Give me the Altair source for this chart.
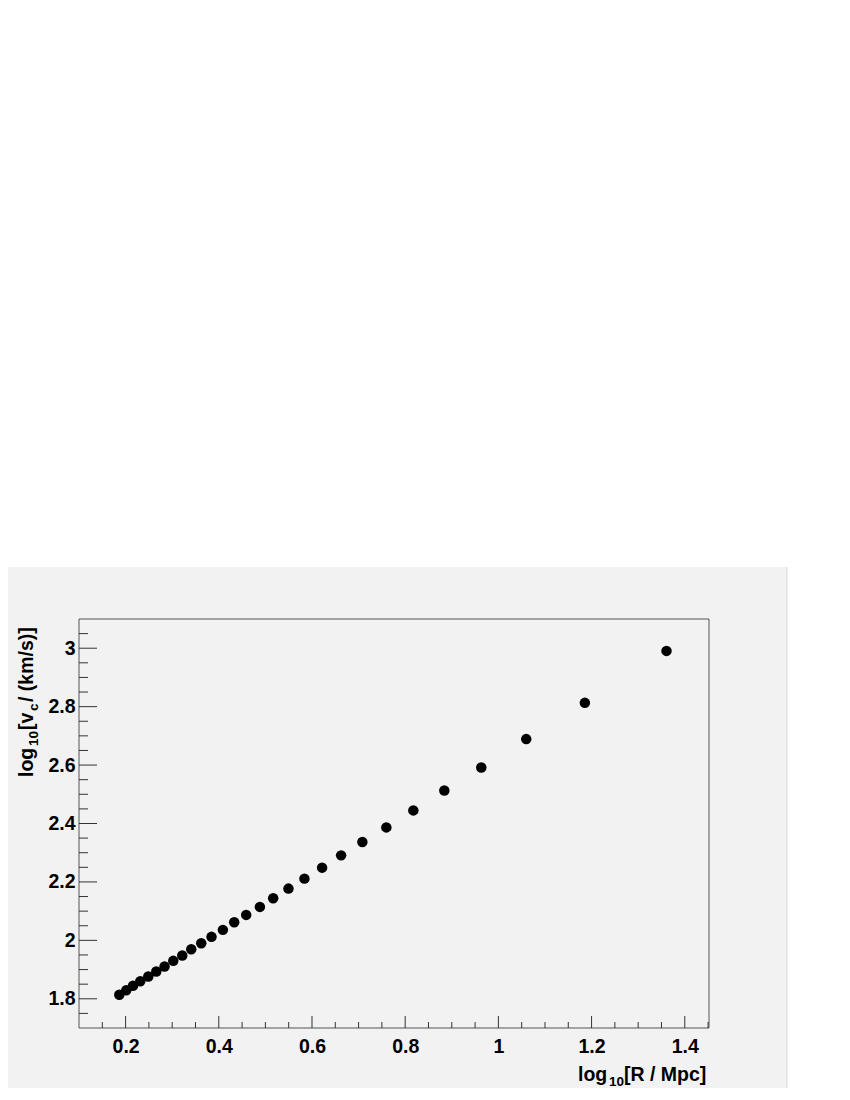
import altair as alt
import pandas as pd

# data
log_r = [0.1865, 0.2015, 0.2159, 0.2315, 0.2487, 0.2658, 0.2836, 0.3023, 0.3216,
         0.3409, 0.3623, 0.3844, 0.4088, 0.4331, 0.4588, 0.4882, 0.5167, 0.5495,
         0.5838, 0.6217, 0.6625, 0.7081, 0.7596, 0.8175, 0.8840, 0.9633, 1.0598,
         1.1856, 1.3608]
log_vc = [1.8137, 1.8294, 1.8444, 1.8602, 1.8762, 1.8933, 1.9104, 1.9299, 1.9480,
          1.9696, 1.9901, 2.0120, 2.0359, 2.0619, 2.0872, 2.1145, 2.1439, 2.1771,
          2.2113, 2.2489, 2.2909, 2.3368, 2.3867, 2.4448, 2.5132, 2.5918, 2.6889,
          2.8130, 2.9908]

x_major = [0.2, 0.4, 0.6, 0.8, 1.0, 1.2, 1.4]
x_minor = [0.15, 0.25, 0.3, 0.35, 0.45, 0.5, 0.55, 0.65, 0.7, 0.75, 0.85, 0.9, 0.95,
           1.05, 1.1, 1.15, 1.25, 1.3, 1.35, 1.45]
y_major = [1.8, 2.0, 2.2, 2.4, 2.6, 2.8, 3.0]
y_minor = [1.75, 1.85, 1.9, 1.95, 2.05, 2.1, 2.15, 2.25, 2.3, 2.35, 2.45, 2.5, 2.55,
           2.65, 2.7, 2.75, 2.85, 2.9, 2.95, 3.05]

X_DOMAIN = [0.1, 1.452]
Y_DOMAIN = [1.7, 3.1]
W, H = 630, 409
FONT = "Liberation Sans"
BG = "#f2f2f2"
LBL = 19.5

xscale = alt.Scale(domain=X_DOMAIN, nice=False, zero=False)
yscale = alt.Scale(domain=Y_DOMAIN, nice=False, zero=False)

xaxis = alt.Axis(values=x_major, format="~g", labelFont=FONT, labelFontWeight="bold",
                 labelFontSize=LBL, labelColor="black", ticks=False, tickSize=0,
                 domain=False, grid=False, title=None, labelPadding=9, zindex=1,
                 labelFlush=False)
yaxis = alt.Axis(values=y_major, format="~g", labelFont=FONT, labelFontWeight="bold",
                 labelFontSize=LBL, labelColor="black", ticks=False, tickSize=0,
                 domain=False, grid=False, title=None, labelPadding=4, zindex=1,
                 labelFlush=False)

one = pd.DataFrame({"a": [0]})

background = alt.Chart(one).mark_rect(fill=BG).encode(
    x=alt.value(-71), x2=alt.value(708), y=alt.value(-52), y2=alt.value(469)
)
right_edge = alt.Chart(one).mark_rule(color="#d8d8d8", strokeWidth=1).encode(
    x=alt.value(708), y=alt.value(-52), y2=alt.value(469)
)
frame = alt.Chart(one).mark_rect(fill=None, stroke="#555555", strokeWidth=1).encode(
    x=alt.value(0), x2=alt.value(W), y=alt.value(0), y2=alt.value(H)
)

pts = pd.DataFrame({"r": log_r, "v": log_vc})
points = alt.Chart(pts).mark_circle(size=110, color="black", opacity=1).encode(
    x=alt.X("r:Q", scale=xscale, axis=xaxis),
    y=alt.Y("v:Q", scale=yscale, axis=yaxis),
)

def yticks(vals, length):
    df = pd.DataFrame({"v": vals})
    return alt.Chart(df).mark_rule(color="#333333", strokeWidth=1).encode(
        y=alt.Y("v:Q", scale=yscale, axis=yaxis),
        x=alt.value(0), x2=alt.value(length),
    )

def xticks(vals, length):
    df = pd.DataFrame({"r": vals})
    return alt.Chart(df).mark_rule(color="#333333", strokeWidth=1).encode(
        x=alt.X("r:Q", scale=xscale, axis=xaxis),
        y=alt.value(H), y2=alt.value(H - length),
    )

F = 19.5
S = 13.5

def txt(s, size, **kw):
    return alt.Chart(one).mark_text(text=s, font=FONT, fontWeight="bold",
                                    fontSize=size, color="black", **kw)

# y title pieces (rotated)
yb = -46
ytitle = [
    txt("log", F, angle=270, align="left", baseline="alphabetic").encode(
        x=alt.value(yb), y=alt.value(158)),
    txt("10", S, angle=270, align="left", baseline="alphabetic").encode(
        x=alt.value(yb + 5), y=alt.value(127)),
    txt("[v", F, angle=270, align="left", baseline="alphabetic").encode(
        x=alt.value(yb), y=alt.value(111)),
    txt("c", S, angle=270, align="left", baseline="alphabetic").encode(
        x=alt.value(yb + 5), y=alt.value(92)),
    txt(" / (km/s)]", F, angle=270, align="left", baseline="alphabetic").encode(
        x=alt.value(yb), y=alt.value(83)),
]

xb = 462
xtitle = [
    txt("log", F, align="left", baseline="alphabetic").encode(
        x=alt.value(499), y=alt.value(xb)),
    txt("10", S, align="left", baseline="alphabetic").encode(
        x=alt.value(530), y=alt.value(xb + 5)),
    txt("[R / Mpc]", F, align="left", baseline="alphabetic").encode(
        x=alt.value(545), y=alt.value(xb)),
]

chart = alt.layer(
    background, right_edge, frame,
    yticks(y_major, 18), yticks(y_minor, 9),
    xticks(x_major, 12), xticks(x_minor, 6),
    points, *ytitle, *xtitle,
).properties(
    width=W, height=H,
    padding={"left": 71, "top": 611, "right": 90, "bottom": 60},
    autosize=alt.AutoSizeParams(type="none"),
    background="white",
).configure_view(stroke=None, fill=BG)

chart.save("out.html", embed_options={"renderer": "svg", "actions": False})
